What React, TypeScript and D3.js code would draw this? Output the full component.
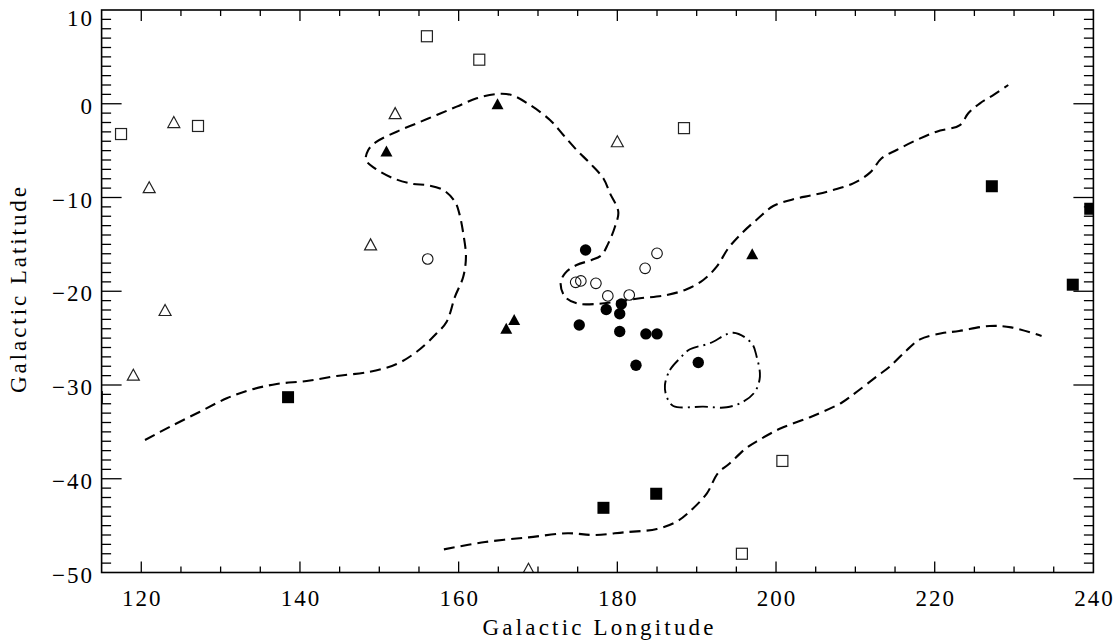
import React, { useRef, useEffect } from 'react';
import * as d3 from 'd3';

// [longitude, latitude]
const openSquares = [[117.45, -3.23], [127.15, -2.37], [156.0, 7.2], [162.6, 4.7], [188.4, -2.6], [114.4, -31.3], [200.8, -38.1], [195.7, -48.0]];
const filledSquares = [[138.5, -31.3], [178.25, -43.1], [184.9, -41.6], [227.2, -8.8], [237.4, -19.3], [239.6, -11.2]];
const openTriangles = [[124.1, -1.95], [121.0, -8.9], [152.0, -1.0], [180.0, -4.0], [148.9, -15.0], [123.0, -22.0], [119.0, -28.9], [168.8, -49.6]];
const filledTriangles = [[150.9, -5.05], [164.9, 0.0], [197.0, -16.0], [167.0, -23.0], [166.0, -23.95]];
const openCircles = [[174.75, -19.05], [175.4, -18.9], [177.3, -19.15], [178.8, -20.5], [181.5, -20.4], [183.5, -17.55], [185.0, -15.95], [156.1, -16.56]];
const filledCircles = [[176.0, -15.6], [180.5, -21.35], [178.6, -21.95], [180.3, -22.4], [175.2, -23.6], [180.3, -24.3], [183.6, -24.55], [185.0, -24.55], [182.35, -27.9], [190.2, -27.6]];

// contour lines
const contourA = [
  [120.47, -35.87], [123.62, -34.45], [127.4, -32.85], [130.77, -31.42], [133.7, -30.53], [137.07, -29.89],
  [140.85, -29.57], [144.63, -29.04], [148.82, -28.58], [152.19, -27.76], [154.71, -26.45], [157.23, -24.49],
  [158.49, -23.25], [159.54, -20.58], [160.58, -18.45], [160.92, -16.31], [160.58, -13.82], [160.08, -11.69],
  [159.54, -10.45], [158.06, -9.2], [155.97, -8.67], [154.28, -8.56], [151.76, -7.95], [149.45, -6.89],
  [148.32, -6.0], [148.61, -4.93], [149.67, -4.05], [152.19, -2.98], [154.71, -2.09], [157.23, -1.2],
  [159.75, -0.31], [162.27, 0.58], [164.79, 1.04], [166.68, 0.93], [168.99, -0.13], [171.51, -1.73],
  [173.19, -3.33], [174.87, -4.93], [176.55, -6.35], [178.23, -7.95], [179.07, -9.55], [180.12, -11.52],
  [179.7, -13.12], [178.86, -14.89], [178.02, -16.13], [176.76, -16.67], [174.87, -17.2], [173.4, -18.09],
  [172.86, -19.15], [173.4, -20.58], [174.87, -21.29], [177.39, -21.36], [179.91, -21.11], [182.85, -20.75],
  [186.22, -20.4], [188.74, -19.79], [190.83, -18.8], [192.52, -17.38], [193.98, -15.42], [195.67, -13.82],
  [197.76, -12.22], [199.65, -10.91], [202.17, -10.19], [204.69, -9.73], [207.21, -9.2], [209.73, -8.49],
  [211.84, -7.35], [213.31, -5.82], [215.2, -4.93], [217.72, -3.87], [220.24, -2.98], [223.18, -2.27],
  [224.23, -1.02], [225.7, 0.05], [227.38, 0.93], [229.27, 2.0]
];
const contourB = [
  [158.14, -47.53], [163.34, -46.75], [168.82, -46.25], [173.75, -45.82], [177.04, -46.0], [180.87, -45.71],
  [184.99, -45.36], [187.45, -44.58], [189.1, -43.51], [191.29, -41.55], [192.66, -39.42], [194.03, -38.46],
  [196.22, -36.75], [197.86, -35.87], [200.61, -34.62], [204.44, -33.38], [208.27, -31.89], [209.92, -30.89],
  [212.66, -29.11], [214.31, -28.05], [216.5, -26.27], [218.14, -25.13], [220.87, -24.49], [223.07, -24.24],
  [226.91, -23.71], [229.64, -23.85], [233.47, -24.77]
];
const contourC = [
  [186.0, -30.0], [186.63, -28.4], [187.89, -27.15], [189.15, -26.19], [191.67, -25.55], [194.61, -24.42],
  [196.93, -25.55], [197.56, -26.98], [197.97, -29.11], [197.34, -30.72], [195.87, -31.78], [193.78, -32.38],
  [190.83, -32.31], [187.05, -32.24], [186.22, -31.25]
];

const xTicks = [120, 140, 160, 180, 200, 220, 240];
const yTicks = [10, 0, -10, -20, -30, -40, -50];

function App() {
  const chartRef = useRef<SVGSVGElement>(null);

  useEffect(() => {
    const svg = d3.select(chartRef.current);
    svg.selectAll('*').remove();

    const left = 101.6, right = 1093.4, top = 10, bottom = 572.5;
    const font = 'Liberation Serif';

    const x = d3.scaleLinear().domain([115, 240]).range([left, right]);
    const y = d3.scaleLinear().domain([-50, 10]).range([bottom, top]);

    svg.append('defs').append('clipPath').attr('id', 'plot-clip')
      .append('rect').attr('x', left).attr('y', top).attr('width', right - left).attr('height', bottom - top);

    const plot = svg.append('g').attr('clip-path', 'url(#plot-clip)');

    // contours
    const line = d3.line<number[]>().x(d => x(d[0])).y(d => y(d[1])).curve(d3.curveCatmullRom);
    const lineClosed = d3.line<number[]>().x(d => x(d[0])).y(d => y(d[1])).curve(d3.curveCatmullRomClosed);

    [contourA, contourB].forEach(c => {
      plot.append('path').attr('d', line(c))
        .attr('fill', 'none').attr('stroke', '#000').attr('stroke-width', 2.1)
        .attr('stroke-dasharray', '11,6');
    });
    plot.append('path').attr('d', lineClosed(contourC))
      .attr('fill', 'none').attr('stroke', '#000').attr('stroke-width', 1.9)
      .attr('stroke-dasharray', '13,5,2,5');

    // markers
    plot.selectAll('.osq').data(openSquares).enter().append('rect')
      .attr('x', d => x(d[0]) - 5.5).attr('y', d => y(d[1]) - 5.5)
      .attr('width', 11).attr('height', 11)
      .attr('fill', 'none').attr('stroke', '#222').attr('stroke-width', 1.2);

    plot.selectAll('.fsq').data(filledSquares).enter().append('rect')
      .attr('x', d => x(d[0]) - 6).attr('y', d => y(d[1]) - 6)
      .attr('width', 12).attr('height', 12).attr('fill', '#000');

    const tri = 'M0,-5.5L6,5.5L-6,5.5Z';
    plot.selectAll('.otr').data(openTriangles).enter().append('path')
      .attr('d', tri).attr('transform', d => `translate(${x(d[0])},${y(d[1])})`)
      .attr('fill', 'none').attr('stroke', '#222').attr('stroke-width', 1.2);

    plot.selectAll('.ftr').data(filledTriangles).enter().append('path')
      .attr('d', tri).attr('transform', d => `translate(${x(d[0])},${y(d[1])})`)
      .attr('fill', '#000');

    plot.selectAll('.oci').data(openCircles).enter().append('circle')
      .attr('cx', d => x(d[0])).attr('cy', d => y(d[1])).attr('r', 5.3)
      .attr('fill', 'none').attr('stroke', '#111').attr('stroke-width', 1.1);

    plot.selectAll('.fci').data(filledCircles).enter().append('circle')
      .attr('cx', d => x(d[0])).attr('cy', d => y(d[1])).attr('r', 5.7)
      .attr('fill', '#000');

    // frame
    svg.append('rect').attr('x', left).attr('y', top).attr('width', right - left).attr('height', bottom - top)
      .attr('fill', 'none').attr('stroke', '#000').attr('stroke-width', 1.6);

    const ticks = svg.append('g').attr('stroke', '#000').attr('stroke-width', 1.3);

    // x ticks, every 5 deg, major every 20
    d3.range(120, 240, 5).forEach(v => {
      const len = v % 20 === 0 ? 11 : 6;
      ticks.append('line').attr('x1', x(v)).attr('x2', x(v)).attr('y1', bottom).attr('y2', bottom - len);
      ticks.append('line').attr('x1', x(v)).attr('x2', x(v)).attr('y1', top).attr('y2', top + len);
    });
    // y ticks, every 1 deg, major every 10
    d3.range(-49, 10, 1).forEach(v => {
      const len = v % 10 === 0 ? 20 : 9.5;
      ticks.append('line').attr('x1', left).attr('x2', left + len).attr('y1', y(v)).attr('y2', y(v));
      ticks.append('line').attr('x1', right).attr('x2', right - len).attr('y1', y(v)).attr('y2', y(v));
    });

    svg.selectAll('.xlab').data(xTicks).enter().append('text')
      .attr('x', d => x(d) + 1).attr('y', 606)
      .attr('text-anchor', 'middle').attr('font-family', font).attr('font-size', 23)
      .attr('letter-spacing', 2)
      .text(d => String(d));

    svg.selectAll('.ylab').data(yTicks).enter().append('text')
      .attr('x', 94).attr('y', d => Math.max(y(d) + 10, 26))
      .attr('text-anchor', 'end').attr('font-family', font).attr('font-size', 23)
      .attr('letter-spacing', 2)
      .text(d => (d < 0 ? '\u2212' + Math.abs(d) : String(d)));

    svg.append('text').attr('x', 598).attr('y', 635)
      .attr('text-anchor', 'middle').attr('font-family', font).attr('font-size', 23)
      .attr('textLength', 231).attr('lengthAdjust', 'spacing')
      .text('Galactic Longitude');

    svg.append('text').attr('transform', 'translate(26,290) rotate(-90)')
      .attr('text-anchor', 'middle').attr('font-family', font).attr('font-size', 23)
      .attr('textLength', 206).attr('lengthAdjust', 'spacing')
      .text('Galactic Latitude');
  }, []);

  return (
    <svg ref={chartRef} width={1116} height={641}
      style={{ position: 'absolute', left: 0, top: 0, background: '#fff' }} />
  );
}

export default App;
